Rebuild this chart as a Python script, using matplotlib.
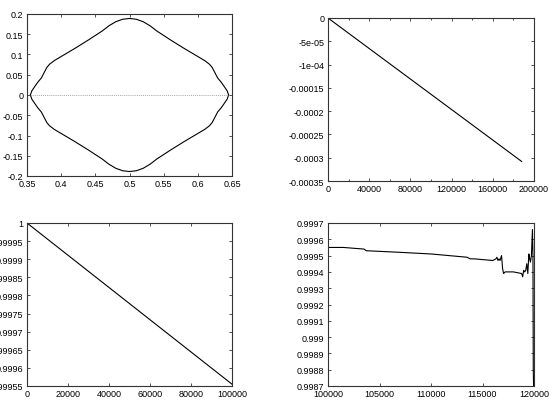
import numpy as np
import matplotlib
matplotlib.use("Agg")
import matplotlib.pyplot as plt
from matplotlib.ticker import MultipleLocator

# panel 1: closed contour (upper half, left -> centre; mirrored in x and y)
shape_x = [0.355, 0.357, 0.361, 0.366, 0.371, 0.375, 0.379, 0.383, 0.390, 0.400,
           0.420, 0.440, 0.460, 0.470, 0.480, 0.490, 0.500]
shape_y = [0.000, 0.010, 0.020, 0.032, 0.042, 0.055, 0.068, 0.076, 0.085, 0.095,
           0.115, 0.136, 0.158, 0.171, 0.181, 0.187, 0.189]

# panel 2: linear drift
drift_t = [0, 188000]
drift_v = [0.0, -0.000308]
drift_yticks = [0, -5e-05, -1e-04, -0.00015, -0.0002, -0.00025, -0.0003, -0.00035]
drift_ylabels = ["0", "-5e-05", "-1e-04", "-0.00015", "-0.0002", "-0.00025", "-0.0003", "-0.00035"]

# panel 3: slow decay
decay_t = [0, 100000]
decay_v = [1.0, 0.999555]
decay_yticks = [0.99955, 0.9996, 0.99965, 0.9997, 0.99975, 0.9998, 0.99985, 0.9999, 0.99995, 1.0]
decay_ylabels = ["0.99955", "0.9996", "0.99965", "0.9997", "0.99975", "0.9998",
                 "0.99985", "0.9999", "0.99995", "1"]

# panel 4: late-time behaviour
late_t = [100000, 101500, 103500, 103700, 107000, 110000, 113500, 113800, 114200, 116000,
          116300, 116400, 116500, 116600, 116700, 116850, 116950, 117050, 117200, 117500,
          118000, 118800, 118900, 119000, 119100, 119200, 119300, 119400, 119500, 119550,
          119650, 119750, 119850, 119900, 119930, 119960]
late_v = [0.99955, 0.99955, 0.99954, 0.99953, 0.99952, 0.99951, 0.99949, 0.99948, 0.99948, 0.99947,
          0.99948, 0.99949, 0.99947, 0.99948, 0.99947, 0.99950, 0.99942, 0.99939, 0.99940, 0.99940,
          0.99940, 0.99939, 0.99937, 0.99941, 0.99940, 0.99941, 0.99945, 0.99939, 0.99951, 0.99949,
          0.99946, 0.99950, 0.99966, 0.99950, 0.99880, 0.99870]
late_yticks = [0.9987, 0.9988, 0.9989, 0.999, 0.9991, 0.9992, 0.9993, 0.9994, 0.9995, 0.9996, 0.9997]
late_ylabels = ["0.9987", "0.9988", "0.9989", "0.999", "0.9991", "0.9992", "0.9993",
                "0.9994", "0.9995", "0.9996", "0.9997"]

plt.rcParams["font.family"] = "Liberation Sans"
plt.rcParams["font.size"] = 6.5

fig = plt.figure(figsize=(5.49, 4.06), dpi=100)
W, H = 549, 406


def box(l, t, r, b):
    return [l / W, 1 - b / H, (r - l) / W, (b - t) / H]


def style(ax):
    ax.tick_params(direction="in", top=True, right=True, length=2.5, width=0.6,
                   which="both", pad=2.5, colors="#333333", labelcolor="black")
    ax.tick_params(which="minor", length=1.5)
    for s in ax.spines.values():
        s.set_linewidth(0.8)
        s.set_color("#333333")


# top-left
ax1 = fig.add_axes(box(27, 15, 232, 177))
sx = np.array(shape_x)
sy = np.array(shape_y)
ux = np.concatenate([sx, 1 - sx[::-1]])
uy = np.concatenate([sy, sy[::-1]])
ax1.plot(ux, uy, color="black", lw=0.8)
ax1.plot(ux, -uy, color="black", lw=0.8)
ax1.plot([0.355, 0.645], [0, 0], color="#888888", lw=0.5, ls=(0, (1.5, 1.5)))
ax1.set_xlim(0.35, 0.65)
ax1.set_ylim(-0.2, 0.2)
ax1.set_xticks([0.35, 0.4, 0.45, 0.5, 0.55, 0.6, 0.65])
ax1.set_xticklabels(["0.35", "0.4", "0.45", "0.5", "0.55", "0.6", "0.65"])
ax1.set_yticks([-0.2, -0.15, -0.1, -0.05, 0, 0.05, 0.1, 0.15, 0.2])
ax1.set_yticklabels(["-0.2", "-0.15", "-0.1", "-0.05", "0", "0.05", "0.1", "0.15", "0.2"])
style(ax1)

# top-right
ax2 = fig.add_axes(box(328, 19, 534, 182))
ax2.plot(drift_t, drift_v, color="black", lw=0.8)
ax2.set_xlim(0, 200000)
ax2.set_ylim(-0.00035, 0)
ax2.set_xticks([0, 40000, 80000, 120000, 160000, 200000])
ax2.set_xticklabels(["0", "40000", "80000", "120000", "160000", "200000"])
ax2.xaxis.set_minor_locator(MultipleLocator(20000))
ax2.set_yticks(drift_yticks)
ax2.set_yticklabels(drift_ylabels)
style(ax2)

# bottom-left
ax3 = fig.add_axes(box(27, 224, 232, 387))
ax3.plot(decay_t, decay_v, color="black", lw=0.8)
ax3.set_xlim(0, 100000)
ax3.set_ylim(0.99955, 1.0)
ax3.set_xticks([0, 20000, 40000, 60000, 80000, 100000])
ax3.set_xticklabels(["0", "20000", "40000", "60000", "80000", "100000"])
ax3.set_yticks(decay_yticks)
ax3.set_yticklabels(decay_ylabels)
style(ax3)

# bottom-right
ax4 = fig.add_axes(box(328, 224, 534, 387))
ax4.plot(late_t, late_v, color="black", lw=0.8)
ax4.set_xlim(100000, 120000)
ax4.set_ylim(0.9987, 0.9997)
ax4.set_xticks([100000, 105000, 110000, 115000, 120000])
ax4.set_xticklabels(["100000", "105000", "110000", "115000", "120000"])
ax4.set_yticks(late_yticks)
ax4.set_yticklabels(late_ylabels)
style(ax4)

fig.savefig("out.png", dpi=100)
plt.close(fig)
